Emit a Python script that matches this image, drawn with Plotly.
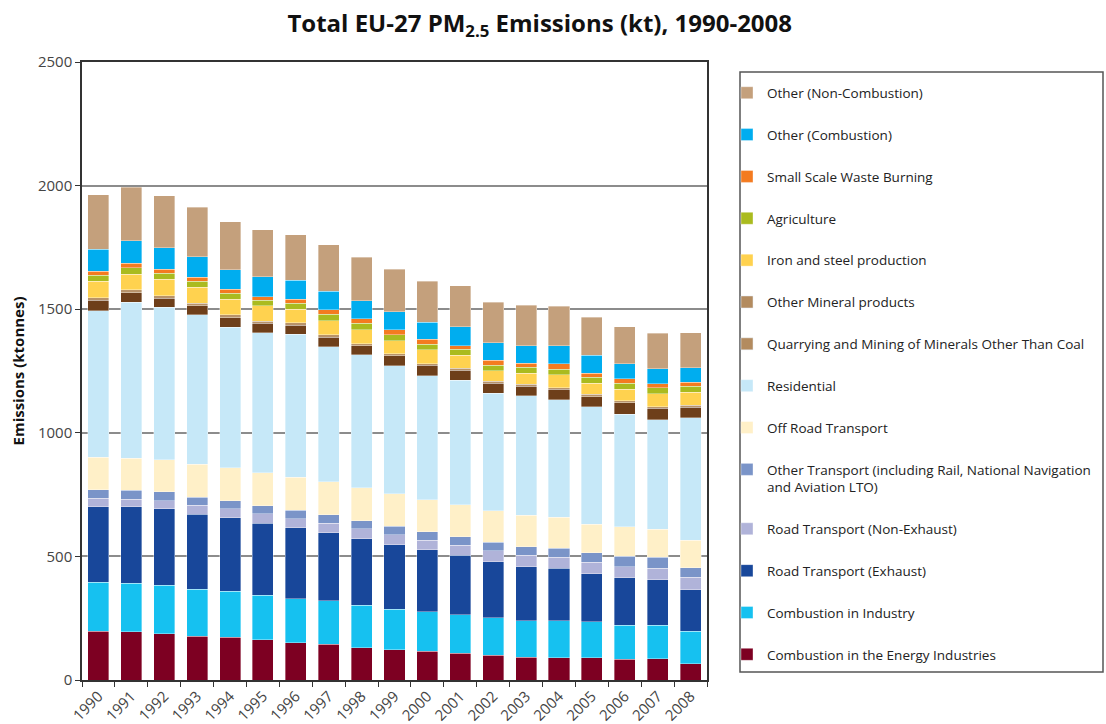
import plotly.graph_objects as go

years = [str(y) for y in range(1990, 2009)]

# PM2.5 emissions by source sector, kt (stacking order: bottom to top)
energy = [197, 195, 187, 178, 173, 162, 151, 144, 131, 123, 117, 109, 101, 92, 90, 90, 84, 85, 66]
industry = [199, 197, 196, 189, 186, 181, 178, 176, 172, 164, 159, 154, 150, 148, 149, 146, 138, 137, 132]
road_exhaust = [305, 308, 309, 303, 298, 292, 287, 276, 269, 260, 250, 241, 228, 218, 213, 194, 191, 184, 168]
road_non_exhaust = [34, 32, 33, 37, 35, 37, 37, 39, 39, 40, 40, 42, 43, 46, 44, 46, 45, 47, 49]
other_transport = [34, 35, 36, 33, 33, 32, 34, 34, 33, 34, 34, 34, 35, 35, 37, 38, 42, 43, 40]
off_road = [133, 131, 129, 133, 134, 135, 134, 133, 134, 133, 129, 129, 128, 128, 125, 117, 119, 113, 110]
residential = [592, 631, 618, 604, 569, 566, 577, 546, 537, 517, 502, 503, 475, 483, 476, 475, 457, 444, 496]
quarrying = [42, 38, 37, 37, 38, 39, 38, 38, 37, 40, 42, 42, 41, 39, 43, 40, 46, 46, 42]
other_mineral = [11, 11, 10, 11, 11, 8, 10, 10, 9, 8, 7, 8, 7, 8, 5, 10, 7, 7, 9]
iron_steel = [67, 64, 66, 63, 63, 61, 54, 58, 56, 54, 55, 51, 43, 44, 52, 44, 48, 52, 52]
agriculture = [23, 25, 25, 25, 24, 23, 24, 25, 26, 24, 24, 24, 23, 24, 24, 24, 23, 25, 25]
waste_burning = [17, 18, 15, 16, 16, 15, 16, 18, 19, 19, 19, 16, 20, 16, 21, 17, 18, 16, 16]
other_combustion = [88, 92, 88, 84, 80, 81, 78, 76, 72, 73, 70, 77, 71, 72, 74, 72, 62, 61, 59]
other_non_combustion = [220, 216, 209, 199, 193, 190, 183, 187, 176, 172, 166, 165, 164, 163, 159, 154, 149, 142, 141]

# (name, values, bar colour, legend swatch colour)
series = [
    ("Combustion in the Energy Industries", energy, "#7D0022", "#7D0022"),
    ("Combustion in Industry", industry, "#16C1F0", "#16C1F0"),
    ("Road Transport (Exhaust)", road_exhaust, "#18479A", "#18479A"),
    ("Road Transport (Non-Exhaust)", road_non_exhaust, "#B0B3D9", "#B0B3D9"),
    ("Other Transport (including Rail, National Navigation<br>and Aviation LTO)", other_transport, "#7A94C8", "#7A94C8"),
    ("Off Road Transport", off_road, "#FFF0C8", "#FFF0C8"),
    ("Residential", residential, "#C6E8F8", "#C6E8F8"),
    ("Quarrying and Mining of Minerals Other Than Coal", quarrying, "#6E3F1A", "#B38B5F"),
    ("Other Mineral products", other_mineral, "#B8936A", "#B38B5F"),
    ("Iron and steel production", iron_steel, "#FFD24F", "#FFD24F"),
    ("Agriculture", agriculture, "#AABB1F", "#AABB1F"),
    ("Small Scale Waste Burning", waste_burning, "#F47B20", "#F47B20"),
    ("Other (Combustion)", other_combustion, "#00ADEF", "#00ADEF"),
    ("Other (Non-Combustion)", other_non_combustion, "#C4A07C", "#C4A07C"),
]

fig = go.Figure()
n = len(series)
for i, (name, vals, color, swatch) in enumerate(series):
    rank = n - i  # top of the stack is listed first in the key
    fig.add_trace(go.Bar(
        x=years, y=vals, name=name, legendgroup=f"g{i}", legendrank=rank,
        marker=dict(color=color, line=dict(color="rgba(255,255,255,0.6)", width=0.6)),
        showlegend=(color == swatch),
    ))
    if color != swatch:
        # legend swatch in the sector's key colour
        fig.add_trace(go.Bar(
            x=[years[0]], y=[None], name=name, legendgroup=f"g{i}", legendrank=rank,
            marker=dict(color=swatch), showlegend=True, hoverinfo="skip",
        ))

font_family = "Open Sans, Noto Sans, sans-serif"

fig.update_layout(
    barmode="stack",
    bargap=0.36,
    width=1106, height=724,
    margin=dict(l=82, r=399, t=62, b=44, autoexpand=False),
    paper_bgcolor="white",
    plot_bgcolor="white",
    font=dict(family=font_family, color="#444", size=14),
    title=dict(
        text="<b>Total EU-27 PM<sub>2.5</sub> Emissions (kt), 1990-2008</b>",
        x=0.488, xanchor="center", xref="container",
        y=0.968, yanchor="middle", yref="container",
        font=dict(family=font_family, size=24, color="#111"),
    ),
    xaxis=dict(
        type="category",
        tickangle=-45,
        ticks="outside", ticklen=5, tickcolor="#333", tickwidth=1,
        tickson="boundaries",
        showline=True, linecolor="#333", linewidth=1.5, mirror=True,
        showgrid=False,
        tickfont=dict(size=15, color="#444"),
    ),
    yaxis=dict(
        range=[0, 2500],
        tickvals=[0, 500, 1000, 1500, 2000, 2500],
        ticks="outside", ticklen=5, tickcolor="#333", tickwidth=1,
        showline=True, linecolor="#333", linewidth=1.5, mirror=True,
        showgrid=True, gridcolor="#8C8C8C", gridwidth=1.5,
        tickfont=dict(size=15, color="#444"),
        title=dict(text="<b>Emissions (ktonnes)</b>", font=dict(size=15, color="#111"), standoff=10),
    ),
    legend=dict(
        x=(727 - 82) / 625, xanchor="left", y=0.975, yanchor="top",
        traceorder="grouped",
        tracegroupgap=21.3,
        valign="top",
        font=dict(size=13.5, color="#222"),
        bgcolor="rgba(0,0,0,0)",
        borderwidth=0,
    ),
    shapes=[
        dict(type="rect", xref="paper", yref="paper",
             x0=(740 - 82) / 625, x1=(1103 - 82) / 625,
             y0=(680 - 672) / 618, y1=(680 - 72) / 618,
             line=dict(color="#555", width=1.5), fillcolor="rgba(0,0,0,0)"),
    ],
)

fig.write_html("out.html")
